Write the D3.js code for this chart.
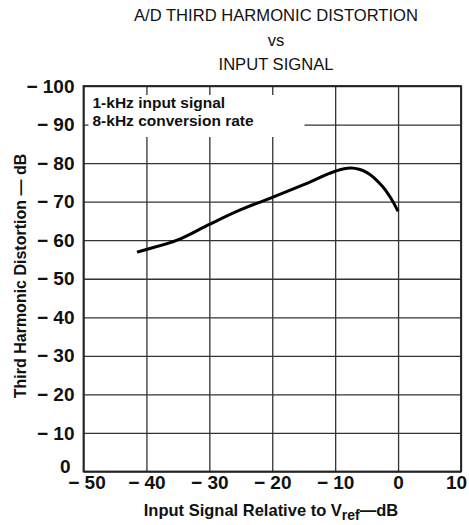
<!DOCTYPE html>
<meta charset="utf-8">
<style>
    body { margin: 0; background: #fff; }
    text { font-family: "Liberation Sans", Arial, sans-serif; fill: #111; }
    .grid line { stroke: #333; stroke-width: 1.3px; }
    .grid path { stroke-width: 0; }
    .axis path, .axis line { display: none; }
    .axis text { font-size: 19px; font-weight: bold; }
    .curve { fill: none; stroke: #000; stroke-width: 3px; }
    .frame { fill: none; stroke: #222; stroke-width: 1.8px; }
</style>
<body>
<script src="https://cdn.jsdelivr.net/npm/d3@7"></script>
<script>

    // data: input level (dB re Vref) vs third harmonic distortion (-dB)
    var inputLevel = [-41.5, -40, -35, -30, -25, -20, -15, -10, -7.5, -5, -2.5, -1, 0];
    var distortion = [56.9, 57.6, 60.1, 64.1, 67.9, 71.1, 74.4, 77.9, 78.7, 77.6, 74.0, 70.5, 67.5];
    var xTicks = [-50, -40, -30, -20, -10, 0, 10];
    var yTicks = [0, 10, 20, 30, 40, 50, 60, 70, 80, 90, 100];
    var titleLines = ["A/D THIRD HARMONIC DISTORTION", "vs", "INPUT SIGNAL"];
    var notes = ["1-kHz input signal", "8-kHz conversion rate"];

    var margin = {top: 86, right: 8, bottom: 53.5, left: 83.5},
        width = 469 - margin.left - margin.right,
        height = 525 - margin.top - margin.bottom;

    var x = d3.scaleLinear().domain([-50, 10]).range([0, width]);
    var y = d3.scaleLinear().domain([0, 100]).range([height, 0]);

    var fmt = function(d) { return d === 0 ? "0" : (d < 0 ? "\u2212 " + (-d) : "" + d); };
    var fmtY = function(d) { return d === 0 ? "0" : "\u2212 " + d; };

    var svg = d3.select("body").append("svg")
        .attr("width", 469)
        .attr("height", 525);

    // title
    svg.append("g").selectAll("text")
        .data(titleLines)
        .enter().append("text")
        .attr("x", 276)
        .attr("y", function(d, i) { return 21 + i * 24.5; })
        .attr("text-anchor", "middle")
        .style("font-size", "16.6px")
        .text(function(d) { return d; });

    var g = svg.append("g")
        .attr("transform", "translate(" + margin.left + "," + margin.top + ")");

    // gridlines
    g.append("g")
        .attr("class", "grid")
        .attr("transform", "translate(0," + height + ")")
        .call(d3.axisBottom(x).tickValues(xTicks).tickSize(-height).tickFormat(""));
    g.append("g")
        .attr("class", "grid")
        .call(d3.axisLeft(y).tickValues(yTicks).tickSize(-width).tickFormat(""));

    // white box behind the notes
    g.append("rect")
        .attr("x", 5)
        .attr("y", 9)
        .attr("width", 216)
        .attr("height", 42)
        .attr("fill", "#fff");

    g.append("g").selectAll("text")
        .data(notes)
        .enter().append("text")
        .attr("x", 9)
        .attr("y", function(d, i) { return 22 + i * 18; })
        .style("font-size", "15.5px")
        .style("font-weight", "bold")
        .text(function(d) { return d; });

    g.append("rect")
        .attr("class", "frame")
        .attr("width", width)
        .attr("height", height);

    // curve
    var pts = inputLevel.map(function(v, i) { return [v, distortion[i]]; });
    var line = d3.line()
        .x(function(d) { return x(d[0]); })
        .y(function(d) { return y(d[1]); })
        .curve(d3.curveCatmullRom.alpha(0.5));
    g.append("path")
        .datum(pts)
        .attr("class", "curve")
        .attr("d", line);

    // axes labels
    var xAxis = g.append("g")
        .attr("class", "axis")
        .attr("transform", "translate(0," + height + ")")
        .call(d3.axisBottom(x).tickValues(xTicks).tickSize(0).tickPadding(4).tickFormat(fmt));
    xAxis.selectAll(".tick text")
        .attr("dx", function(d) { return d === 10 ? -5 : (d === -50 ? 3 : 0); });
    var yAxis = g.append("g")
        .attr("class", "axis")
        .call(d3.axisLeft(y).tickValues(yTicks).tickSize(0).tickPadding(9).tickFormat(fmtY));
    yAxis.selectAll(".tick text")
        .filter(function(d) { return d === 0; })
        .attr("dx", -4)
        .attr("dy", "0.05em");

    // axis titles
    var xt = svg.append("text")
        .attr("x", 271)
        .attr("y", 516)
        .attr("text-anchor", "middle")
        .style("font-size", "16.5px")
        .style("font-weight", "bold");
    xt.append("tspan").text("Input Signal Relative to V");
    xt.append("tspan").attr("dy", 4).style("font-size", "14px").text("ref");
    xt.append("tspan").attr("dy", -4).text("\u2014dB");

    svg.append("text")
        .attr("transform", "translate(26," + 276 + ") rotate(-90)")
        .attr("text-anchor", "middle")
        .style("font-size", "16px")
        .style("font-weight", "bold")
        .text("Third Harmonic Distortion \u2014 dB");

</script>
</body>
